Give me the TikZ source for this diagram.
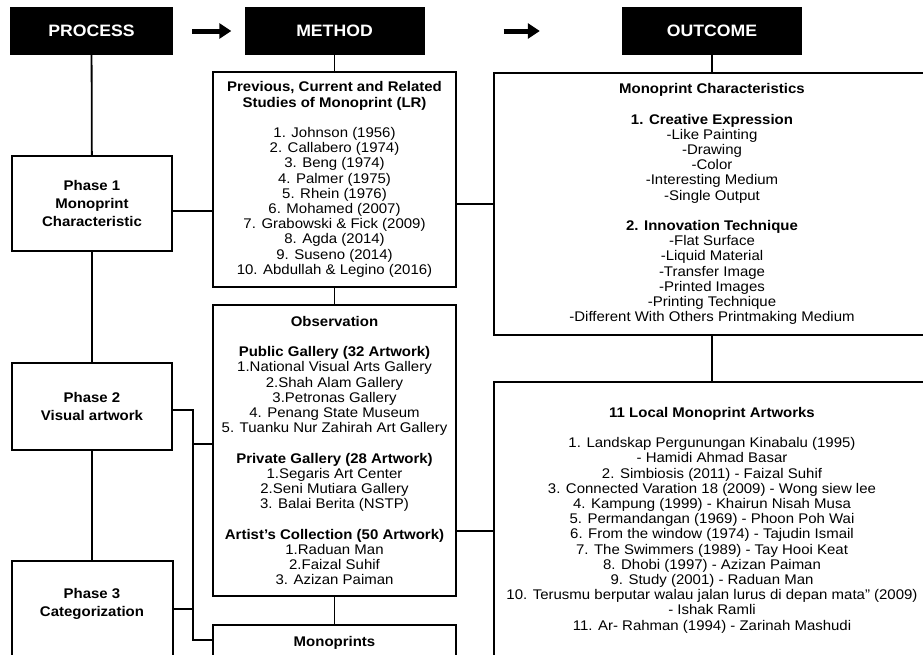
\documentclass[tikz,border=0pt]{standalone}
\usepackage{fontspec}
\setmainfont{Liberation Sans}[FakeStretch=1.07]
\usetikzlibrary{arrows.meta}

\tikzset{
  headbox/.style={fill=black, text=white, minimum height=48pt, inner sep=0pt,
    font=\fontsize{16.5}{18}\selectfont\bfseries},
  phasefont/.style={align=center, inner sep=0pt, font=\fontsize{14}{18}\selectfont\bfseries},
  listfont/.style={align=center, inner sep=0pt, font=\fontsize{14}{15.2}\selectfont},
  phasebox/.style={draw, line width=2pt, minimum width=160pt, phasefont},
  listbox/.style={draw, line width=2pt, listfont},
  link/.style={line width=1.8pt},
  bigarrow/.style={line width=5pt, -{Triangle[length=12pt,width=15pt]}},
}

\begin{document}
\begin{tikzpicture}[x=1pt,y=-1pt]
  \useasboundingbox (0,0) rectangle (923,654);
  \clip (0,0) rectangle (923,654);

  % headers
  \draw (91.5,31) node[headbox, minimum width=163pt] (process) {PROCESS};
  \draw (334.5,31) node[headbox, minimum width=180pt] (method) {METHOD};
  \draw (712,31) node[headbox, minimum width=180pt] (outcome) {OUTCOME};
  \draw[bigarrow, shorten <=19pt, shorten >=13pt] (process) -- (method);
  \draw[bigarrow, shorten <=79pt, shorten >=82pt] (method) -- (outcome);

  % phases
  \draw (92,203.5) node[phasebox, minimum height=95pt] (phase1) {Phase 1\\Monoprint\\Characteristic};
  \draw (92,406.5) node[phasebox, minimum height=87pt] (phase2) {Phase 2\\Visual artwork};
  \draw (92,560) node[phasebox, minimum width=161pt, minimum height=120pt, anchor=north,
    label={[phasefont, anchor=north, yshift=-28pt]north:{Phase 3\\Categorization}}] (phase3) {};

  % method
  \draw (334.5,179.5) node[listbox, minimum width=243pt, minimum height=215pt] (lr)
    {\textbf{Previous, Current and Related}\\\textbf{Studies of Monoprint (LR)}\\[15.2pt]
     1. Johnson (1956)\\2. Callabero (1974)\\3. Beng (1974)\\4. Palmer (1975)\\
     5. Rhein (1976)\\6. Mohamed (2007)\\7. Grabowski \& Fick (2009)\\8. Agda (2014)\\
     9. Suseno (2014)\\10. Abdullah \& Legino (2016)};
  \draw (334.5,450.5) node[listbox, minimum width=243pt, minimum height=291pt] (obs)
    {\textbf{Observation}\\[15.2pt]
     \textbf{Public Gallery (32 Artwork)}\\1.National Visual Arts Gallery\\
     2.Shah Alam Gallery\\3.Petronas Gallery\\4. Penang State Museum\\
     5. Tuanku Nur Zahirah Art Gallery\\[15.2pt]
     \textbf{Private Gallery (28 Artwork)}\\1.Segaris Art Center\\
     2.Seni Mutiara Gallery\\3. Balai Berita (NSTP)\\[15.2pt]
     \textbf{Artist’s Collection (50 Artwork)}\\1.Raduan Man\\2.Faizal Suhif\\
     3. Azizan Paiman};
  \draw (334.5,624) node[listbox, minimum width=243pt, minimum height=80pt, anchor=north,
    label={[listfont, anchor=north, yshift=-12pt]north:\textbf{Monoprints}}] (mono) {};

  % outcome
  \draw (712,204) node[listbox, minimum width=436pt, minimum height=262pt] (char)
    {\textbf{Monoprint Characteristics}\\[15.2pt]
     \textbf{1. Creative Expression}\\-Like Painting\\-Drawing\\-Color\\
     -Interesting Medium\\-Single Output\\[15.2pt]
     \textbf{2. Innovation Technique}\\-Flat Surface\\-Liquid Material\\
     -Transfer Image\\-Printed Images\\-Printing Technique\\
     -Different With Others Printmaking Medium};
  \draw (712,520) node[listbox, minimum width=436pt, minimum height=276pt] (local)
    {\textbf{11 Local Monoprint Artworks}\\[15.2pt]
     1. Landskap Pergunungan Kinabalu (1995)\\- Hamidi Ahmad Basar\\
     2. Simbiosis (2011) - Faizal Suhif\\
     3. Connected Varation 18 (2009) - Wong siew lee\\
     4. Kampung (1999) - Khairun Nisah Musa\\
     5. Permandangan (1969) - Phoon Poh Wai\\
     6. From the window (1974) - Tajudin Ismail\\
     7. The Swimmers (1989) - Tay Hooi Keat\\
     8. Dhobi (1997) - Azizan Paiman\\
     9. Study (2001) - Raduan Man\\
     10. Terusmu berputar walau jalan lurus di depan mata” (2009)\\- Ishak Ramli\\
     11. Ar- Rahman (1994) - Zarinah Mashudi};

  % connectors
  \path[link] (process) edge (phase1)
              (phase1) edge (phase2)
              (phase2) edge (phase3)
              (method) edge (lr)
              (lr) edge (obs)
              (obs) edge (mono)
              (outcome) edge (char)
              (char) edge (local);

  \coordinate (p1) at ([yshift=-7.5pt]phase1.east);
  \draw[link] (p1) -- (p1 -| lr.west);
  \draw[link] (char.west -| lr.east) -- (char.west);
  \coordinate (p2) at ([yshift=-11pt]local.west);
  \draw[link] (p2 -| obs.east) -- (p2);

  \coordinate (bus) at (193,410);
  \coordinate (p3) at ([yshift=-3.5pt]phase2.east);
  \coordinate (p4) at ([yshift=-16pt]mono.north west);
  \coordinate (p5) at ([yshift=6.5pt]obs.west);
  \coordinate (p6) at ([yshift=-49pt]phase3.north east);
  \draw[link] (p3) -- (bus) |- (p4);
  \draw[link] (p5 -| bus) -- (p5);
  \draw[link] (p6) -- (p6 -| bus);
\end{tikzpicture}
\end{document}
